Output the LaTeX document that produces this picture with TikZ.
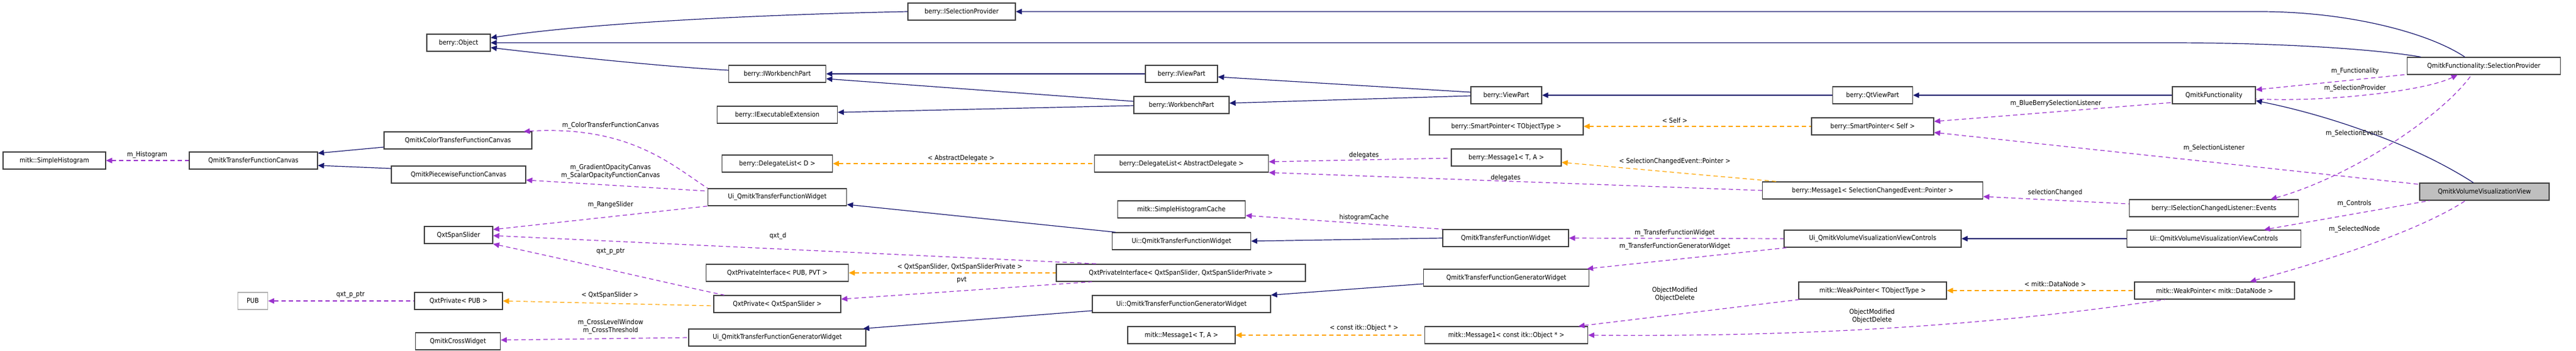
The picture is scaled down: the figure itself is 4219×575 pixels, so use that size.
\documentclass[tikz,border=0pt]{standalone}
\usepackage{fontspec}
\setmainfont{DejaVu Sans Condensed}
\usetikzlibrary{arrows.meta}
\definecolor{inhc}{HTML}{191970}
\definecolor{usec}{HTML}{9A32CD}
\definecolor{tplc}{HTML}{FFA500}
\begin{document}
\begin{tikzpicture}[x=1pt,y=-1pt,
  box/.style={draw=black!75,fill=white,line width=1.3pt,minimum height=28pt,inner sep=0pt,font=\fontsize{11}{13}\selectfont},
  lbl/.style={font=\fontsize{11}{13}\selectfont,inner sep=1pt,align=center},
  inh/.style={draw=inhc,line width=1.2pt,{Triangle[length=10pt,width=9pt]}-},
  use/.style={draw=usec,line width=1.2pt,dash pattern=on 7pt off 5pt,{Triangle[length=10pt,width=9pt]}-},
  tpl/.style={draw=tplc,line width=1.2pt,dash pattern=on 7pt off 5pt,{Triangle[length=10pt,width=9pt]}-}]
\useasboundingbox (0,0) rectangle (4219,575);
% nodes
\node[box,minimum width=104] (obj) at (751,70) {berry::Object};
\node[box,minimum width=242] (cc) at (750,230) {QmitkColorTransferFunctionCanvas};
\node[box,minimum width=168] (hist) at (89,263) {mitk::SimpleHistogram};
\node[box,minimum width=210] (tfc) at (415,263) {QmitkTransferFunctionCanvas};
\node[box,minimum width=220] (pw) at (751,286) {QmitkPiecewiseFunctionCanvas};
\node[box,minimum width=112] (sl) at (751,385) {QxtSpanSlider};
\node[box,draw=black!30,minimum width=49] (pub) at (414,493) {PUB};
\node[box,minimum width=144] (qpub) at (751,493) {QxtPrivate< PUB >};
\node[box,minimum width=139] (cw) at (750,559) {QmitkCrossWidget};
\node[box,minimum width=176] (isp) at (1575,19) {berry::ISelectionProvider};
\node[box,minimum width=159] (iwp) at (1273,121) {berry::IWorkbenchPart};
\node[box,minimum width=197] (iee) at (1273,188) {berry::IExecutableExtension};
\node[box,minimum width=181] (dld) at (1273,268) {berry::DelegateList< D >};
\node[box,minimum width=227] (uitfw) at (1273,323) {Ui\_QmitkTransferFunctionWidget};
\node[box,minimum width=233] (qpipp) at (1273,447) {QxtPrivateInterface< PUB, PVT >};
\node[box,minimum width=208] (qps) at (1273,498) {QxtPrivate< QxtSpanSlider >};
\node[box,minimum width=290] (uigen) at (1273,553) {Ui\_QmitkTransferFunctionGeneratorWidget};
\node[box,minimum width=118] (ivp) at (1935,121) {berry::IViewPart};
\node[box,minimum width=156] (wbp) at (1935,172) {berry::WorkbenchPart};
\node[box,minimum width=285] (dlad) at (1935,268) {berry::DelegateList< AbstractDelegate >};
\node[box,minimum width=209] (shc) at (1935,343) {mitk::SimpleHistogramCache};
\node[box,minimum width=227] (uictfw) at (1935,395) {Ui::QmitkTransferFunctionWidget};
\node[box,minimum width=408] (qpiq) at (1934,447) {QxtPrivateInterface< QxtSpanSlider, QxtSpanSliderPrivate >};
\node[box,minimum width=292] (uicgen) at (1935,498) {Ui::QmitkTransferFunctionGeneratorWidget};
\node[box,minimum width=176] (mmta) at (1935,549) {mitk::Message1< T, A >};
\node[box,minimum width=116] (vp) at (2467,156) {berry::ViewPart};
\node[box,minimum width=252] (spt) at (2467,207) {berry::SmartPointer< TObjectType >};
\node[box,minimum width=180] (bmta) at (2467,258) {berry::Message1< T, A >};
\node[box,minimum width=206] (qtfw) at (2466,390) {QmitkTransferFunctionWidget};
\node[box,minimum width=271] (qtfgw) at (2467,455) {QmitkTransferFunctionGeneratorWidget};
\node[box,minimum width=267] (mmc) at (2467,549) {mitk::Message1< const itk::Object * >};
\node[box,minimum width=131] (qvp) at (3067,156) {berry::QtViewPart};
\node[box,minimum width=200] (sps) at (3067,207) {berry::SmartPointer< Self >};
\node[box,minimum width=361] (bms) at (3067,312) {berry::Message1< SelectionChangedEvent::Pointer >};
\node[box,minimum width=290] (uivvc) at (3067,391) {Ui\_QmitkVolumeVisualizationViewControls};
\node[box,minimum width=242] (wpt) at (3067,476) {mitk::WeakPointer< TObjectType >};
\node[box,minimum width=251] (sp) at (4068,108) {QmitkFunctionality::SelectionProvider};
\node[box,minimum width=136] (qf) at (3626,156) {QmitkFunctionality};
\node[box,fill=black!25,minimum width=212] (vv) at (4069,314) {QmitkVolumeVisualizationView};
\node[box,minimum width=277] (iscl) at (3626,341) {berry::ISelectionChangedListener::Events};
\node[box,minimum width=285] (uicvvc) at (3626,391) {Ui::QmitkVolumeVisualizationViewControls};
\node[box,minimum width=262] (wpdn) at (3627,476) {mitk::WeakPointer< mitk::DataNode >};
% inheritance
\draw[inh] ([yshift=8]obj.east) .. controls (950,40) and (1200,25) .. (isp.west);
\draw[inh] (obj.east) -- (3550,70) .. controls (3750,70) and (3900,82) .. ([xshift=23]sp.north west);
\draw[inh] ([yshift=-8]obj.east) .. controls (950,95) and (1100,110) .. ([yshift=6]iwp.west);
\draw[inh] (isp.east) -- (3700,19) .. controls (3850,19) and (3980,55) .. ([xshift=95]sp.north west);
\draw[inh] (iwp.east) -- (ivp.west);
\draw[inh] ([yshift=-8]iwp.east) -- ([yshift=6]wbp.west);
\draw[inh] ([yshift=4]iee.east) -- ([yshift=-1]wbp.west);
\draw[inh] ([yshift=-5]ivp.east) -- ([yshift=5]vp.west);
\draw[inh] ([yshift=3]wbp.east) -- ([yshift=-1]vp.west);
\draw[inh] (vp.east) -- (qvp.west);
\draw[inh] (qvp.east) -- (qf.west);
\draw[inh] ([yshift=-9]qf.east) .. controls (3820,190) and (3960,240) .. ([xshift=-18]vv.north);
\draw[inh] ([yshift=-12]uitfw.east) -- ([xshift=6]uictfw.north west);
\draw[inh] (uictfw.east) -- (qtfw.west);
\draw[inh] ([xshift=-5]uigen.north east) -- ([yshift=-11]uicgen.west);
\draw[inh] (uicgen.north east) -- ([yshift=-10]qtfgw.west);
\draw[inh] (uivvc.east) -- (uicvvc.west);
\draw[inh] ([yshift=12]tfc.east) -- ([yshift=-11]cc.west);
\draw[inh] ([yshift=-8]tfc.east) -- ([yshift=10]pw.west);
% usage
\draw[use] (hist.east) -- (tfc.west);
\draw[use] ([xshift=-14]cc.north east) .. controls (1030,205) and (1100,270) .. (uitfw.north west);
\draw[use] ([yshift=-9]pw.east) -- ([yshift=10]uitfw.west);
\draw[use] ([yshift=9]sl.east) -- (uitfw.south west);
\draw[use] ([yshift=-1]sl.east) -- ([xshift=71]qpiq.north west);
\draw[use] (sl.south east) .. controls (950,430) and (1120,470) .. ([xshift=18]qps.north west);
\draw[use] ([yshift=8]qps.east) -- ([xshift=59]qpiq.south west);
\draw[use] (pub.east) -- (qpub.west);
\draw[use] ([yshift=2]cw.east) -- (uigen.west);
\draw[use] ([yshift=3]dlad.east) -- ([yshift=-1]bmta.west);
\draw[use] (dlad.south east) -- (bms.west);
\draw[use] ([yshift=-10]shc.east) -- (qtfw.north west);
\draw[use] (qtfw.east) -- (uivvc.west);
\draw[use] ([xshift=-4]qtfgw.north east) -- ([xshift=6]uivvc.south west);
\draw[use] ([xshift=-16]mmc.north east) -- ([xshift=2]wpt.south west);
\draw[use] (mmc.east) .. controls (3050,553) and (3350,520) .. ([xshift=51]wpdn.south west);
\draw[use] ([yshift=8]sps.east) -- ([yshift=-12]qf.west);
\draw[use] ([yshift=-10]sps.east) -- ([yshift=12]vv.west);
\draw[use] ([yshift=-10]bms.east) -- ([yshift=7]iscl.west);
\draw[use] ([yshift=9]qf.east) -- ([yshift=-14]sp.west);
\draw[use] ([xshift=83]sp.south west) .. controls (3970,150) and (3800,168) .. ([yshift=-6]qf.east);
\draw[use] ([xshift=93]iscl.north) .. controls (3850,290) and (4000,190) .. ([xshift=106]sp.south west);
\draw[use] ([xshift=82]uicvvc.north) -- ([xshift=17]vv.south west);
\draw[use] ([xshift=58]wpdn.north) .. controls (3800,430) and (3960,380) .. ([xshift=-31]vv.south);
% templates
\draw[tpl] (qpub.east) -- ([yshift=-3]qps.west);
\draw[tpl] (qpipp.east) -- (qpiq.west);
\draw[tpl] (dld.east) -- (dlad.west);
\draw[tpl] ([yshift=-8]bmta.east) -- ([xshift=24]bms.north west);
\draw[tpl] (spt.east) -- (sps.west);
\draw[tpl] (mmta.east) -- (mmc.west);
\draw[tpl] (wpt.east) -- (wpdn.west);
% labels
\node[lbl] (l1) at (241,254) {m\_Histogram};
\node[lbl] (l2) at (1000,206) {m\_ColorTransferFunctionCanvas};
\node[lbl] (l3) at (1000,281) {m\_GradientOpacityCanvas\\m\_ScalarOpacityFunctionCanvas};
\node[lbl] (l4) at (1000,336) {m\_RangeSlider};
\node[lbl] (l5) at (1274,387) {qxt\_d};
\node[lbl] (l6) at (1000,412) {qxt\_p\_ptr};
\node[lbl] (l7) at (1574,259) {< AbstractDelegate >};
\node[lbl] (l8) at (1572,437) {< QxtSpanSlider, QxtSpanSliderPrivate >};
\node[lbl] (l9) at (1575,459) {pvt};
\node[lbl] (l10) at (999,483) {< QxtSpanSlider >};
\node[lbl] (l11) at (1000,535) {m\_CrossLevelWindow\\m\_CrossThreshold};
\node[lbl] (l12) at (574,483) {qxt\_p\_ptr};
\node[lbl] (l13) at (2234,254) {delegates};
\node[lbl] (l14) at (2466,291) {delegates};
\node[lbl] (l15) at (2234,356) {histogramCache};
\node[lbl] (l16) at (2234,537) {< const itk::Object * >};
\node[lbl] (l17) at (2743,197) {< Self >};
\node[lbl] (l18) at (2743,264) {< SelectionChangedEvent::Pointer >};
\node[lbl] (l19) at (2743,382) {m\_TransferFunctionWidget};
\node[lbl] (l20) at (2743,404) {m\_TransferFunctionGeneratorWidget};
\node[lbl] (l21) at (2743,482) {ObjectModified\\ObjectDelete};
\node[lbl] (l22) at (3066,518) {ObjectModified\\ObjectDelete};
\node[lbl] (l23) at (3367,170) {m\_BlueBerrySelectionListener};
\node[lbl] (l24) at (3857,117) {m\_Functionality};
\node[lbl] (l25) at (3857,145) {m\_SelectionProvider};
\node[lbl] (l26) at (3856,219) {m\_SelectionEvents};
\node[lbl] (l27) at (3626,243) {m\_SelectionListener};
\node[lbl] (l28) at (3366,315) {selectionChanged};
\node[lbl] (l29) at (3856,334) {m\_Controls};
\node[lbl] (l30) at (3856,376) {m\_SelectedNode};
\node[lbl] (l31) at (3366,465) {< mitk::DataNode >};
\end{tikzpicture}
\end{document}
